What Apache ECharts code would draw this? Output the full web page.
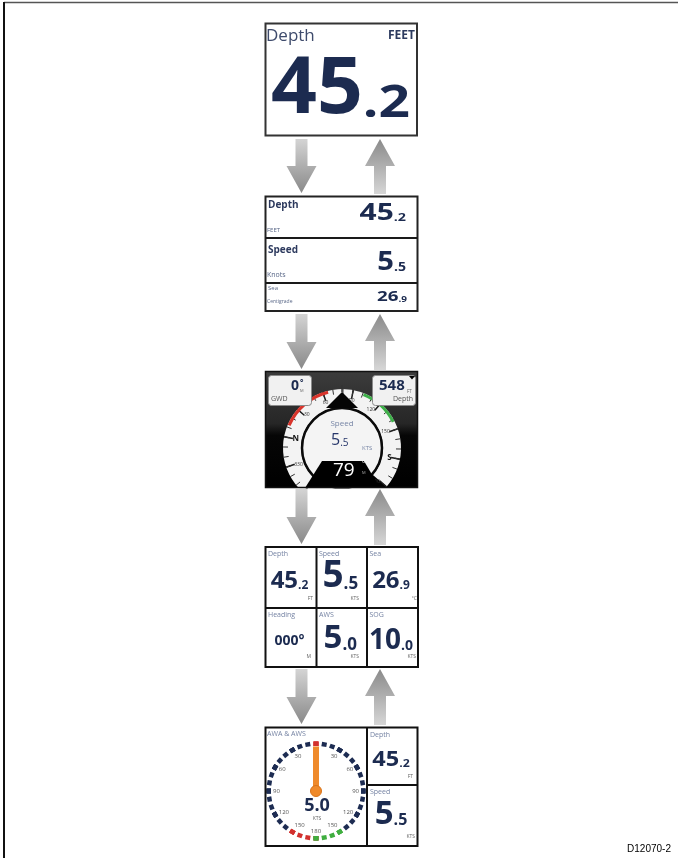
<!DOCTYPE html>
<html><head><meta charset="utf-8">
<script src="https://cdn.jsdelivr.net/npm/echarts@6/dist/echarts.min.js"></script>
<style>html,body{margin:0;padding:0;background:#fff}#c{width:678px;height:858px}</style>
</head><body><div id="c"></div>
<script>
// ---------------- data ----------------
const singleLabel = 'Depth';
const singleUnit = 'FEET';
const singleValue = 45.2;

const listLabels = ['Depth', 'Speed', 'Sea'];
const listUnits = ['FEET', 'Knots', 'Centigrade'];
const listValues = [45.2, 5.5, 26.9];

const dialSpeedLabel = 'Speed';
const dialSpeed = 5.5;
const dialSpeedUnit = 'KTS';
const dialHeading = 79;
const dialGwd = 0;
const dialGwdLabel = 'GWD';
const dialDepth = 548;
const dialDepthLabel = 'Depth';
const dialDepthUnit = 'FT';
const compassLabels = ['300', '330', 'N', '30', '60', '90', '120', '150', 'S', '210'];
const compassRange = [-60, 210];

const gridLabels = ['Depth', 'Speed', 'Sea', 'Heading', 'AWS', 'SOG'];
const gridValues = [45.2, 5.5, 26.9, 0, 5.0, 10.0];
const gridUnits = ['FT', 'KTS', '°C', 'M', 'KTS', 'KTS'];

const awaTitle = 'AWA & AWS';
const awaAngle = 0;
const awsValue = 5.0;
const awsUnit = 'KTS';
const awaLabels = ['180', '150', '120', '90', '60', '30', '', '30', '60', '90', '120', '150', ''];
const sideLabels = ['Depth', 'Speed'];
const sideValues = [45.2, 5.5];
const sideUnits = ['FT', 'KTS'];

const figureId = 'D12070-2';

// ---------------- helpers ----------------
const FONT = '"Open Sans", "DejaVu Sans", sans-serif';
const NAVY = '#1c2b50';
const LBL = '#7583a3';
const mctx = document.createElement('canvas').getContext('2d');
function tw(s, size, weight) { mctx.font = (weight || 'normal') + ' ' + size + 'px ' + FONT; return mctx.measureText(s).width; }
const K = 0.388;
const els = [];
function T(x, base, s, size, color, opt) {
  opt = opt || {};
  const fam = opt.family || FONT;
  const k = opt.k || K;
  els.push({ type: 'text', z: opt.z || 20, silent: true,
    x: x, y: base - k * size, scaleX: opt.sx || 1,
    style: { x: 0, y: 0, text: s, fill: color,
      font: (opt.weight || 'normal') + ' ' + size + 'px ' + fam,
      align: opt.align || 'left', verticalAlign: 'middle' } });
}
function R(x, y, w, h, fill, stroke, lw, z, r) {
  els.push({ type: 'rect', z: z || 1, shape: { x: x, y: y, width: w, height: h, r: r || 0 },
    style: { fill: fill || 'none', stroke: stroke || 'none', lineWidth: lw || 0 } });
}
function L(x1, y1, x2, y2, stroke, lw, z) {
  els.push({ type: 'line', z: z || 16, shape: { x1: x1, y1: y1, x2: x2, y2: y2 }, style: { stroke: stroke, lineWidth: lw } });
}
function P(points, fill, z) { els.push({ type: 'polygon', z: z || 11, shape: { points: points }, style: { fill: fill } }); }
function splitNum(v) { const s = v.toFixed(1); const i = s.indexOf('.'); return [s.slice(0, i), s.slice(i)]; }
function NUM(ax, base, v, fi, fd, color, mode, weight, sxi, sxd) {
  weight = weight || 'bold'; sxi = sxi || 1; sxd = sxd || sxi;
  const p = splitNum(v);
  const wa = tw(p[0], fi, weight) * sxi, wb = tw(p[1], fd, weight) * sxd;
  const left = mode === 'right' ? ax - wa - wb : (mode === 'center' ? ax - (wa + wb) / 2 : ax);
  T(left, base, p[0], fi, color, { weight: weight, sx: sxi });
  T(left + wa, base, p[1], fd, color, { weight: weight, sx: sxd });
}
function arrow(cx, y0, y1, down) {
  const sw = 6, hw = 15, hl = 27;
  let pts;
  if (down) pts = [[cx - sw, y0], [cx + sw, y0], [cx + sw, y1 - hl], [cx + hw, y1 - hl], [cx, y1], [cx - hw, y1 - hl], [cx - sw, y1 - hl]];
  else pts = [[cx - sw, y1], [cx + sw, y1], [cx + sw, y0 + hl], [cx + hw, y0 + hl], [cx, y0], [cx - hw, y0 + hl], [cx - sw, y0 + hl]];
  P(pts, new echarts.graphic.LinearGradient(0, 0, 0, 1, [
    { offset: 0, color: down ? '#d4d4d4' : '#8a8a8a' },
    { offset: 1, color: down ? '#898989' : '#d6d6d6' }]), 18);
}

// ---------------- frame ----------------
L(4, 2.5, 678, 2.5, '#555', 1.6, 30);
L(4, 2, 4, 858, '#111', 2, 30);
T(671, 853, figureId, 10, '#000', { align: 'right', family: '"Liberation Sans", Arial, sans-serif', k: 0.3465 });

// ---------------- arrows ----------------
[[139, 194], [314, 370], [489, 545], [669, 725]].forEach(function (r) {
  arrow(301.5, r[0], r[1] - 1, true);
  arrow(380, r[0], r[1], false);
});

// ---------------- panel 1 ----------------
R(265.5, 23.5, 151.5, 112, '#fff', '#333', 2, 16);
T(266, 43, singleLabel, 17, '#3e4b6c');
T(415, 40, singleUnit, 12, '#2c3a5e', { weight: 'bold', align: 'right' });
NUM(271, 121.5, singleValue, 78, 44, NAVY, 'left', 'bold', 1.03, 1.25);

// ---------------- panel 2 ----------------
R(265.5, 196.5, 152, 114.5, '#fff', '#222', 2, 16);
L(265.5, 238, 417.5, 238, '#1a1a1a', 2);
L(265.5, 283, 417.5, 283, '#1a1a1a', 2);
(function () {
  const lab = [[209, 10, 'bold', '#2d3a5e'], [254, 10, 'bold', '#2d3a5e'], [291, 6, 'normal', '#5a6888']];
  const un = [[233, 6], [278, 7], [304, 5]];
  const val = [[406, 222.5, 23, 11, 1.3], [406, 272.5, 27, 13, 1.08], [407, 302.5, 15, 8, 1.25]];
  for (let i = 0; i < 3; i++) {
    T(268, lab[i][0], listLabels[i], lab[i][1], lab[i][3], { weight: lab[i][2] });
    T(267, un[i][0], listUnits[i], un[i][1], '#5a6888');
    NUM(val[i][0], val[i][1], listValues[i], val[i][2], val[i][3], NAVY, 'right', 'bold', val[i][4]);
  }
})();

// ---------------- panel 3 ----------------
R(265.5, 371.5, 152, 116, new echarts.graphic.LinearGradient(0, 0, 0, 1, [
  { offset: 0, color: '#3c3c3c' }, { offset: 0.45, color: '#262626' },
  { offset: 0.55, color: '#060606' }, { offset: 1, color: '#000' }]), 'none', 0, 1);
els.push({ type: 'circle', z: 10, shape: { cx: 342, cy: 448, r: 40 }, style: { fill: '#f4f4f4', stroke: '#0a0a0a', lineWidth: 2.5 } });
P([[342, 392], [358, 408], [326, 408]], '#050505', 11);
L(342, 385, 342, 392, '#333', 1.5, 11);
P([[322, 461], [364, 461], [380, 488], [305, 488]], '#000', 11);
R(262, 488.5, 160, 10, '#fff', 'none', 0, 15);
R(265.5, 371.5, 152, 116, 'none', '#111', 1.5, 16);
// boxes
R(268.5, 375.5, 43, 30, '#f1f1f1', '#8a8a8a', 1, 12, 3);
R(372.5, 375.5, 43, 30, '#f1f1f1', '#8a8a8a', 1, 12, 3);
T(299, 391, String(dialGwd), 14, NAVY, { weight: 'bold', align: 'right' });
T(300, 386, '°', 8, NAVY, { weight: 'bold' });
T(300, 392, 'M', 4, '#666');
T(271, 402, dialGwdLabel, 7, '#555');
T(379, 392, String(dialDepth), 15, NAVY, { weight: 'bold' });
T(407, 393, dialDepthUnit, 4.5, '#666');
T(413, 402, dialDepthLabel, 7, '#555', { align: 'right' });
P([[409, 376], [415, 376], [412, 379.5]], '#000', 13);
// centre readout
T(342, 427, dialSpeedLabel, 8, '#7886a6', { align: 'center' });
NUM(331, 447, dialSpeed, 16, 10, '#26366a', 'left', 'normal');
T(362, 451, dialSpeedUnit, 6, '#7886a6');
T(333, 478, String(dialHeading), 19, '#fff');
T(362, 467, '°', 8, '#fff');
T(362, 474, 'M', 4, '#aaa');

// ---------------- panel 4 ----------------
R(265.5, 547, 152.5, 120, '#fff', '#111', 2, 16);
L(316.5, 547, 316.5, 667, '#111', 2);
L(367, 547, 367, 667, '#111', 2);
L(265.5, 608, 418, 608, '#111', 2);
(function () {
  const cols = [[265.5, 316.5], [316.5, 367], [367, 418]];
  const rows = [[547, 608], [608, 667]];
  const sz = [[24, 12], [37, 17], [24, 12], [14, 14], [33, 17], [28, 14]];
  const base = [590.5, 591, 590.5, 646, 651.5, 651.5];
  const unitPos = [[313, 601], [359, 601], [417, 601], [311, 659], [359, 659], [416, 659]];
  for (let i = 0; i < 6; i++) {
    const c = cols[i % 3], r = rows[Math.floor(i / 3)];
    T(c[0] + 2.5, r[0] + 10, gridLabels[i], 7, LBL);
    const cx = (c[0] + c[1]) / 2 - 1.5;
    if (gridUnits[i] === 'M') {
      T(cx, base[i], String(Math.round(gridValues[i])).padStart(3, '0') + '°', sz[i][0], NAVY, { weight: 'bold', align: 'center' });
    } else {
      NUM(cx, base[i], gridValues[i], sz[i][0], sz[i][1], NAVY, 'center');
    }
    T(unitPos[i][0], unitPos[i][1], gridUnits[i], 5, '#666', { align: 'right' });
  }
})();

// ---------------- panel 5 ----------------
R(265.5, 727.5, 152, 118.5, '#fff', 'none', 0, 1);
R(265.5, 727.5, 152, 118.5, 'none', '#111', 2, 16);
L(367, 727.5, 367, 846, '#111', 2);
L(367, 785, 417.5, 785, '#111', 2);
T(267, 737, awaTitle, 7, LBL);
T(317, 813, awsValue.toFixed(1), 18, NAVY, { weight: 'bold', align: 'center' });
T(317, 821, awsUnit, 5, '#666', { align: 'center' });
(function () {
  const top = [727.5, 785];
  const vb = [768, 827];
  const vs = [[21, 11, 1.12], [33, 16, 1]];
  const ub = [[413, 779], [415, 839]];
  for (let i = 0; i < 2; i++) {
    T(370, top[i] + 10, sideLabels[i], 7, LBL);
    NUM(391, vb[i], sideValues[i], vs[i][0], vs[i][1], NAVY, 'center', 'bold', vs[i][2]);
    T(ub[i][0], ub[i][1], sideUnits[i], 5, '#666', { align: 'right' });
  }
})();

// ---------------- chart ----------------
const chart = echarts.init(document.getElementById('c'), null, { renderer: 'canvas' });
const off = { show: false };
chart.setOption({
  animation: false,
  backgroundColor: '#fff',
  graphic: { elements: els },
  series: [
    { // compass band
      type: 'gauge', z: 5, center: [342, 448], radius: 59,
      min: compassRange[0], max: compassRange[1], startAngle: 229, endAngle: -41, splitNumber: 9,
      axisLine: { show: true, lineStyle: { width: 18, color: [[1, '#f3f3f3']] } },
      splitLine: { show: true, distance: -18, length: 9, lineStyle: { color: '#1a1a1a', width: 1.5 } },
      axisTick: { show: true, distance: -18, length: 5, splitNumber: 3, lineStyle: { color: '#333', width: 1 } },
      axisLabel: { show: true, distance: 17.5, fontSize: 5, color: '#333', fontFamily: FONT,
        formatter: function (v) {
          const s = compassLabels[Math.round((v - compassRange[0]) / 30)];
          return (s === 'N' || s === 'S') ? '{b|' + s + '}' : s;
        },
        rich: { b: { fontSize: 8, fontWeight: 'bold', color: '#111', fontFamily: FONT } } },
      pointer: off, anchor: off, title: off, detail: off,
      data: [{ value: dialHeading }]
    },
    { // red / green sectors
      type: 'gauge', z: 6, center: [342, 448], radius: 59,
      min: compassRange[0], max: compassRange[1], startAngle: 229, endAngle: -41,
      axisLine: { show: true, lineStyle: { width: 3, color: [[0.267, 'rgba(0,0,0,0)'], [0.463, '#d8342b'], [0.596, 'rgba(0,0,0,0)'], [0.748, '#3fb04a'], [1, 'rgba(0,0,0,0)']] } },
      splitLine: off, axisTick: off, axisLabel: off, pointer: off, anchor: off, title: off, detail: off,
      data: [{ value: dialHeading }]
    },
    { // AWA dial
      type: 'gauge', z: 5, center: [316, 791], radius: 49.5,
      min: -180, max: 180, startAngle: 270, endAngle: -90, splitNumber: 12,
      axisLine: { show: true, lineStyle: { width: 5, opacity: 0, color: [[0.09, '#d2312e'], [0.49, '#1d2c52'], [0.51, '#d2312e'], [0.91, '#1d2c52'], [1, '#3fae3f']] } },
      splitLine: { show: true, distance: -5, length: 4.5, lineStyle: { color: 'auto', width: 5 } },
      axisTick: { show: true, distance: -5, length: 4.5, splitNumber: 3, lineStyle: { color: 'auto', width: 5 } },
      axisLabel: { show: true, distance: 7, fontSize: 6, color: '#555', fontFamily: FONT,
        formatter: function (v) { return awaLabels[Math.round((v + 180) / 30)]; } },
      pointer: { show: true, icon: 'rect', length: '90%', width: 6, offsetCenter: [0, 0], itemStyle: { color: '#ef8a2b' } },
      anchor: { show: true, size: 11, showAbove: true, itemStyle: { color: '#ef8a2b', borderColor: '#d9731a', borderWidth: 1 } },
      title: off, detail: off,
      data: [{ value: awaAngle }]
    }
  ]
});
</script>
</body></html>
